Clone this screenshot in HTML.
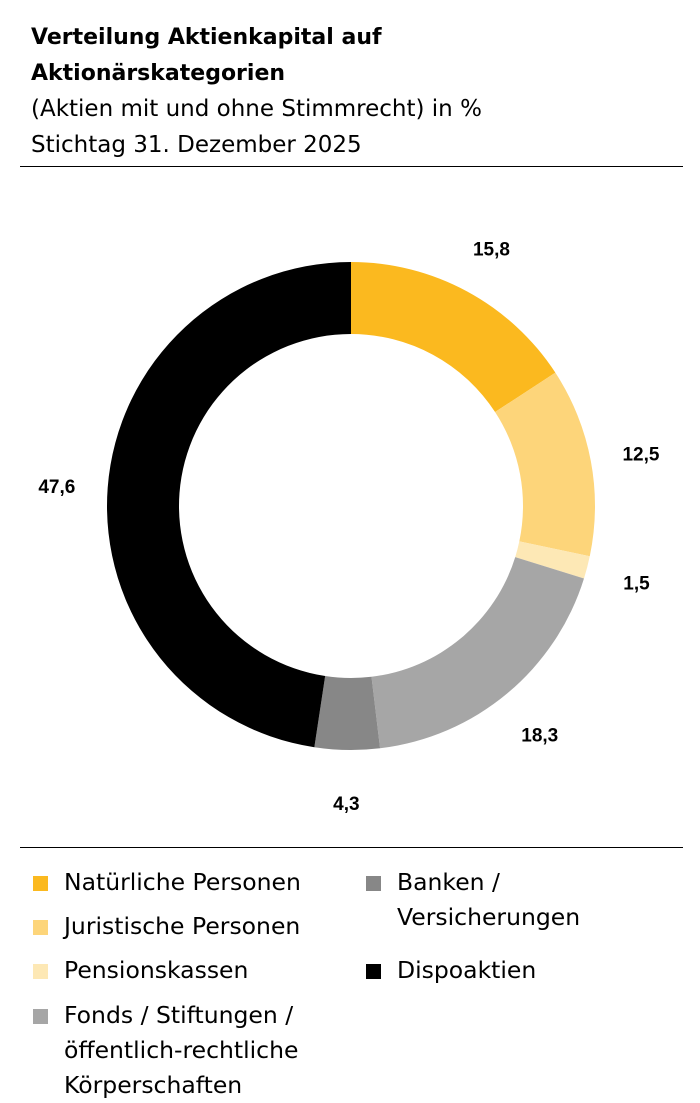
<!DOCTYPE html>
<html><head><meta charset="utf-8">
<style>
body{margin:0;width:700px;height:1103px;background:#fff;font-family:"DejaVu Sans","Liberation Sans",sans-serif;color:#000;overflow:hidden;position:relative}
.t{position:absolute;left:31px;font-size:23px;line-height:36px;white-space:nowrap}
.hr{position:absolute;left:20px;width:663px;height:1px;background:#000}
.lg{position:absolute;font-size:23.5px;line-height:35px;white-space:nowrap}
.sw{position:absolute;width:15px;height:15px}
</style></head><body>
<div class="t" style="top:20px;font-weight:bold;font-size:22px">Verteilung Aktienkapital auf<br>Aktionärskategorien</div>
<div class="t" style="top:91px">(Aktien mit und ohne Stimmrecht) in %<br>Stichtag 31. Dezember 2025</div>
<div class="hr" style="top:166px"></div>
<div class="hr" style="top:847px"></div>
<svg id="chart" width="700" height="1103" style="position:absolute;left:0;top:0"></svg>
<div>
<div class="sw" style="left:33px;top:876px;background:#fbb91f"></div>
<div class="lg" style="left:64px;top:865px">Natürliche Personen</div>
<div class="sw" style="left:33px;top:920px;background:#fdd57a"></div>
<div class="lg" style="left:64px;top:909px">Juristische Personen</div>
<div class="sw" style="left:33px;top:964px;background:#fde8b5"></div>
<div class="lg" style="left:64px;top:953px">Pensionskassen</div>
<div class="sw" style="left:33px;top:1009px;background:#a6a6a6"></div>
<div class="lg" style="left:64px;top:998px">Fonds / Stiftungen /<br>öffentlich-rechtliche<br>Körperschaften</div>
<div class="sw" style="left:366px;top:876px;background:#878787"></div>
<div class="lg" style="left:397px;top:865px">Banken /<br>Versicherungen</div>
<div class="sw" style="left:366px;top:964px;background:#000"></div>
<div class="lg" style="left:397px;top:953px">Dispoaktien</div>
</div>
<script>
const categories=["Natürliche Personen","Juristische Personen","Pensionskassen","Fonds / Stiftungen / öffentlich-rechtliche Körperschaften","Banken / Versicherungen","Dispoaktien"];
const values=[15.8,12.5,1.5,18.3,4.3,47.6];
const labels=["15,8","12,5","1,5","18,3","4,3","47,6"];
const colors=["#fbb91f","#fdd57a","#fde8b5","#a6a6a6","#878787","#000000"];
const svg=document.getElementById('chart');
const NS="http://www.w3.org/2000/svg";
const cx=351,cy=506,R=244,r=172,LR=295;
const total=values.reduce((a,b)=>a+b,0);
function pt(rad,a){return [cx+rad*Math.sin(a),cy-rad*Math.cos(a)];}
let cum=0;
values.forEach((v,i)=>{
  const a0=cum/total*2*Math.PI,a1=(cum+v)/total*2*Math.PI;
  const lg=(a1-a0)>Math.PI?1:0;
  const p0=pt(R,a0),p1=pt(R,a1),q1=pt(r,a1),q0=pt(r,a0);
  const p=document.createElementNS(NS,'path');
  p.setAttribute('d',`M${p0[0]},${p0[1]}A${R},${R} 0 ${lg} 1 ${p1[0]},${p1[1]}L${q1[0]},${q1[1]}A${r},${r} 0 ${lg} 0 ${q0[0]},${q0[1]}Z`);
  p.setAttribute('fill',colors[i]);
  
  
  svg.appendChild(p);
  const am=(a0+a1)/2,lp=pt(LR,am);
  const t=document.createElementNS(NS,'text');
  t.setAttribute('x',lp[0]);t.setAttribute('y',lp[1]+9);
  t.setAttribute('text-anchor','middle');
  t.setAttribute('font-size','19');t.setAttribute('font-weight','bold');
  t.setAttribute('font-family','Liberation Sans, sans-serif');
  t.textContent=labels[i];
  
  
  svg.appendChild(t);
  cum+=v;
});
</script>
</body></html>
